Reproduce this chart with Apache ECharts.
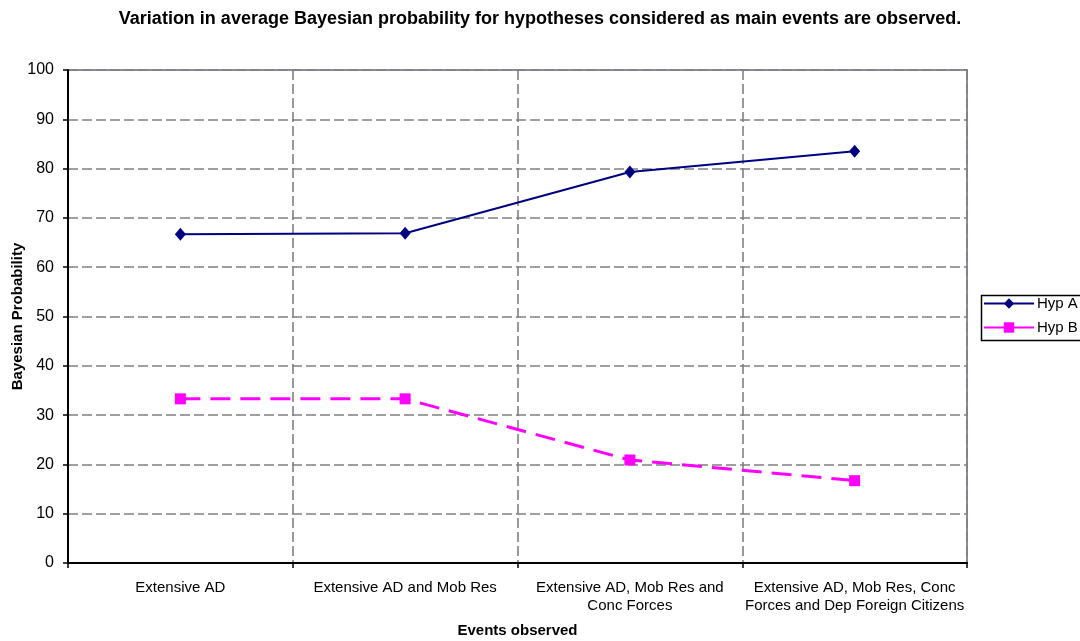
<!DOCTYPE html>
<html>
<head>
<meta charset="utf-8">
<script src="https://cdn.jsdelivr.net/npm/echarts@6/dist/echarts.min.js"></script>
<style>
  html, body { margin: 0; padding: 0; background: #ffffff; }
  #chart { width: 1080px; height: 641px; }
</style>
</head>
<body>
<div id="chart"></div>
<script>
// Observed event combinations (x axis categories)
const categories = [
  'Extensive AD',
  'Extensive AD and Mob Res',
  'Extensive AD, Mob Res and\nConc Forces',
  'Extensive AD, Mob Res, Conc\nForces and Dep Foreign Citizens'
];
// Average Bayesian probability (%) for each hypothesis
const hypA = [66.7, 66.9, 79.3, 83.5];
const hypB = [33.3, 33.3, 20.9, 16.7];
const yTicks = { min: 0, max: 100, interval: 10 };

const FONT = '"Liberation Sans", Arial, sans-serif';
const chart = echarts.init(document.getElementById('chart'), null, { renderer: 'canvas' });

chart.setOption({
  backgroundColor: '#ffffff',
  animation: false,
  textStyle: { fontFamily: FONT, color: '#000000' },
  title: {
    text: 'Variation in average Bayesian probability for hypotheses considered as main events are observed.',
    left: 'center',
    top: 5,
    textStyle: { fontFamily: FONT, fontSize: 18, fontWeight: 'bold', color: '#000000' }
  },
  grid: {
    left: 68, right: 113, top: 70, bottom: 78,
    containLabel: false,
    outerBoundsMode: 'none',
    show: true,
    borderColor: '#8a8aa8',
    borderWidth: 2,
    backgroundColor: 'transparent'
  },
  legend: {
    orient: 'vertical',
    left: 983,
    top: 296,
    padding: 0,
    itemGap: 9,
    itemWidth: 50,
    itemHeight: 13,
    textStyle: { fontFamily: FONT, fontSize: 15, color: '#000000', padding: [0, 0, 0, -2] },
    data: ['Hyp A', 'Hyp B']
  },
  graphic: [{
    type: 'rect',
    left: 979,
    top: 293,
    shape: { width: 110, height: 45 },
    style: { fill: 'none', stroke: '#000000', lineWidth: 1.5 },
    z: 100
  }],
  xAxis: {
    type: 'category',
    data: categories,
    boundaryGap: true,
    name: 'Events observed',
    nameLocation: 'middle',
    nameGap: 60,
    nameMoveOverlap: false,
    nameTextStyle: { fontFamily: FONT, fontSize: 15, fontWeight: 'bold', color: '#000000' },
    axisLine: { show: true, lineStyle: { color: '#000000', width: 2 } },
    axisTick: { show: true, alignWithLabel: false, length: 5, lineStyle: { color: '#000000', width: 1.5 } },
    axisLabel: {
      fontFamily: FONT, fontSize: 15, color: '#000000', margin: 16, lineHeight: 18,
      interval: 0, align: 'center'
    },
    splitLine: { show: true, lineStyle: { color: '#808080', width: 1.6, type: [10, 4] } }
  },
  yAxis: {
    type: 'value',
    min: yTicks.min,
    max: yTicks.max,
    interval: yTicks.interval,
    name: 'Bayesian Probability',
    nameLocation: 'middle',
    nameGap: 43,
    nameRotate: 90,
    nameMoveOverlap: false,
    nameTextStyle: { fontFamily: FONT, fontSize: 15, fontWeight: 'bold', color: '#000000' },
    axisLine: { show: true, lineStyle: { color: '#000000', width: 2 } },
    axisTick: { show: true, length: 5, lineStyle: { color: '#000000', width: 1.5 } },
    axisLabel: { fontFamily: FONT, fontSize: 16, color: '#000000', margin: 14 },
    splitLine: { show: true, lineStyle: { color: '#808080', width: 1.6, type: [10, 4] } }
  },
  series: [
    {
      name: 'Hyp A',
      type: 'line',
      data: hypA,
      symbol: 'diamond',
      symbolSize: [11, 13],
      itemStyle: { color: '#000080' },
      lineStyle: { color: '#000080', width: 2, type: 'solid' },
      z: 5
    },
    {
      name: 'Hyp B',
      type: 'line',
      data: hypB,
      symbol: 'rect',
      symbolSize: [11, 11],
      itemStyle: { color: '#ff00ff' },
      lineStyle: { color: '#ff00ff', width: 3, type: [20, 10] },
      z: 5
    }
  ]
});
</script>
</body>
</html>
